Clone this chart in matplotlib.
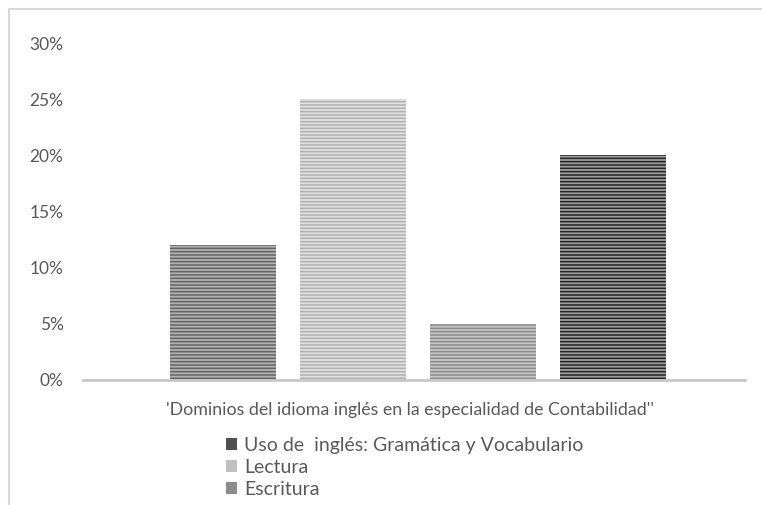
# Dominios del idioma ingles - bar chart with striped grey bars

from matplotlib import pyplot as plt
from matplotlib.patches import Patch, Rectangle
import numpy as np

plt.rcParams['font.family'] = ['Lato', 'DejaVu Sans']

values = [12, 25, 5, 20]
faces = ['#b2b2b2', '#e0e0e0', '#c6c6c6', '#9c9c9c']
stripes = ['#646464', '#b0b0b0', '#8a8a8a', '#262626']
xlabel = "'Dominios del idioma inglés en la especialidad de Contabilidad''"
legend_names = ['Uso de  inglés: Gramática y Vocabulario', 'Lectura', 'Escritura']
legend_cols = ['#505050', '#c0c0c0', '#8c8c8c']

plt.rcParams['hatch.linewidth'] = 1.1

fig = plt.figure(figsize=(7.62, 5.05), dpi=100)
ax = fig.add_axes([83/762, 1 - 380/505, 662/762, (380 - 43)/505])

x = np.arange(len(values))
for i in range(len(values)):
    ax.bar(x[i], values[i], width=0.815, color=faces[i], edgecolor=stripes[i],
           hatch='-----', linewidth=0)

ax.set_xlim(-1.077, 4.015)
ax.set_ylim(0, 30)
ax.set_yticks([0, 5, 10, 15, 20, 25, 30])
ax.set_yticklabels([f'{v}%' for v in [0, 5, 10, 15, 20, 25, 30]])
ax.set_xticks([])
for s in ['top', 'right', 'left']:
    ax.spines[s].set_visible(False)
ax.spines['bottom'].set_color('#c8c8c8')
ax.spines['bottom'].set_linewidth(2)
ax.tick_params(axis='y', length=0, labelsize=12.5, labelcolor='#595959', pad=14)

fig.text(410/762, 1 - 410/505, xlabel, ha='center', va='center',
         fontsize=12.8, color='#595959')

handles = [Patch(facecolor=c, edgecolor='none') for c in legend_cols]
fig.legend(handles, legend_names, loc='upper left',
           bbox_to_anchor=(226/762, 1 - 437/505), frameon=False,
           handlelength=0.58, handleheight=0.58, handletextpad=0.35,
           labelspacing=0.25, prop={'size': 14}, labelcolor='#595959',
           borderpad=0, borderaxespad=0)

# outer chart border
fig.patches.append(Rectangle((9/762, -0.1), 1.2, 1 - 9/505 + 0.1,
                             transform=fig.transFigure, fill=False,
                             edgecolor='#d9d9d9', linewidth=1.5))

fig.savefig('out.png', dpi=100)
